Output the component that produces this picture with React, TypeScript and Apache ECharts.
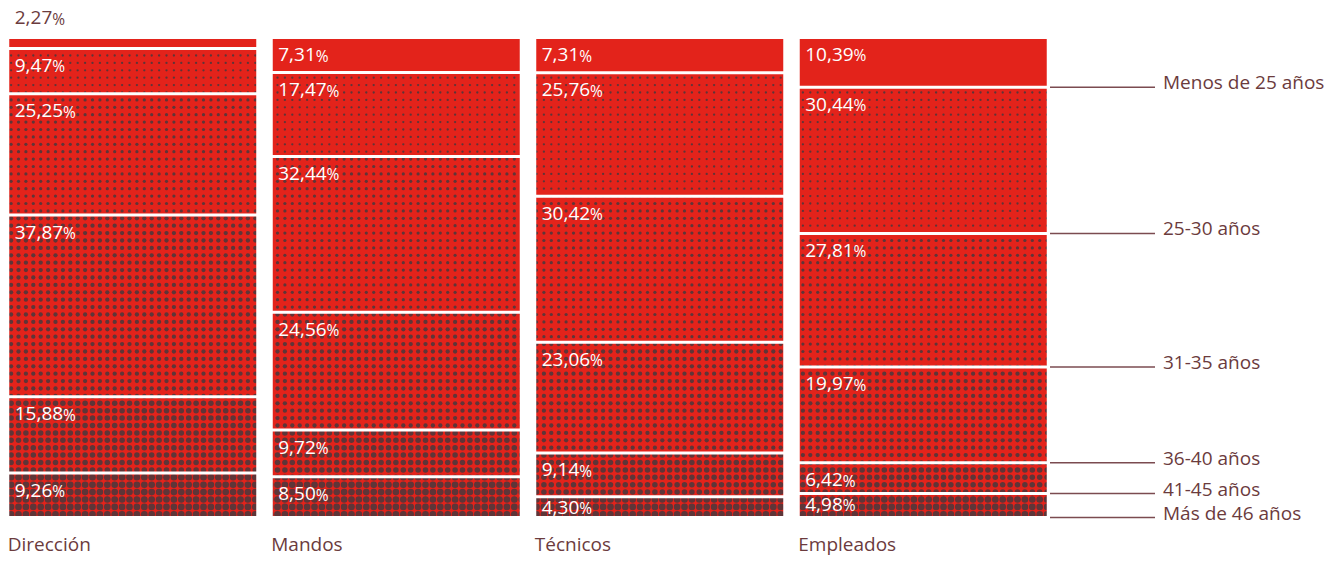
import React, { useEffect, useRef } from "react";
import * as echarts from "echarts";

const categories = ["Dirección", "Mandos", "Técnicos", "Empleados"];
// stacked from bottom to top
const ageGroups = ["Más de 46 años", "41-45 años", "36-40 años", "31-35 años", "25-30 años", "Menos de 25 años"];
const mas46 = [9.26, 8.5, 4.3, 4.98];
const a41_45 = [15.88, 9.72, 9.14, 6.42];
const a36_40 = [37.87, 24.56, 23.06, 19.97];
const a31_35 = [25.25, 32.44, 30.42, 27.81];
const a25_30 = [9.47, 17.47, 25.76, 30.44];
const menos25 = [2.27, 7.31, 7.31, 10.39];
const seriesValues = [mas46, a41_45, a36_40, a31_35, a25_30, menos25];

const RED = "#e3231b";
const DOT = "#5e3538";
const BROWN = "#6b3b3d";
const FONT = "'Open Sans', 'Noto Sans', sans-serif";
const dotRadii = [3.3, 2.75, 2.15, 1.6, 1.15, 0];

function makePattern(r: number): any {
  if (r <= 0) return RED;
  const s = 7.4;
  const n = 5;
  const size = Math.round(s * n);
  const c = document.createElement("canvas");
  c.width = size;
  c.height = size;
  const ctx = c.getContext("2d")!;
  ctx.fillStyle = RED;
  ctx.fillRect(0, 0, size, size);
  ctx.fillStyle = DOT;
  const step = size / n;
  for (let i = 0; i < n; i++) {
    for (let j = 0; j < n; j++) {
      ctx.beginPath();
      ctx.arc(step * i + step / 2, step * j + step / 2, r, 0, Math.PI * 2);
      ctx.fill();
    }
  }
  return { image: c, repeat: "repeat" };
}

const fmt = (v: number) => v.toFixed(2).replace(".", ",");

export default function App() {
  const ref = useRef<HTMLDivElement>(null);
  useEffect(() => {
    if (!ref.current) return;
    const chart = echarts.init(ref.current, null, { renderer: "svg" });
    const series = seriesValues.map((vals, i) => ({
      type: "bar",
      name: ageGroups[i],
      stack: "total",
      barWidth: 250,
      clip: false,
      itemStyle: { color: makePattern(dotRadii[i]), borderColor: "#ffffff", borderWidth: 1.5 },
      label: {
        show: true,
        position: [7, 3],
        align: "left",
        verticalAlign: "top",
        color: "#ffffff",
        fontFamily: FONT,
        formatter: (p: any) => `{v|${fmt(p.value)}}{p|%}`,
        rich: {
          v: { fontSize: 19, fontFamily: FONT, verticalAlign: "bottom", lineHeight: 23 },
          p: { fontSize: 15.5, fontFamily: FONT, verticalAlign: "bottom", lineHeight: 20 },
        },
      },
      data: vals.map((v, j) => {
        if (i === seriesValues.length - 1 && j === 0) {
          return { value: v, label: { position: [7, -34], color: BROWN } };
        }
        if (v < 6) {
          return { value: v, label: { position: [7, -3.5] } };
        }
        return v;
      }),
    }));
    chart.setOption({
      animation: false,
      grid: { left: 1, width: 1054, top: 37.5, height: 480, containLabel: false },
      xAxis: {
        type: "category",
        data: categories,
        axisLine: { show: false },
        axisTick: { show: false },
        axisLabel: {
          margin: 17,
          formatter: "{a|{value}}",
          rich: { a: { width: 250, align: "left", fontSize: 19, fontFamily: FONT, color: BROWN } },
        },
      },
      yAxis: { type: "value", min: 0, max: 100, show: false },
      series,
    });
    // legend lines to the last column's segment boundaries
    const last = categories.length - 1;
    const graphic: any[] = [];
    let base = 0;
    seriesValues.forEach((vals, i) => {
      const y = chart.convertToPixel({ gridIndex: 0 }, [last, base])[1];
      graphic.push({
        type: "line",
        shape: { x1: 1050, y1: y, x2: 1155, y2: y },
        style: { stroke: "#7b4b50", lineWidth: 1.5 },
      });
      graphic.push({
        type: "text",
        x: 1163,
        y: y - 5,
        style: { text: ageGroups[i], fill: BROWN, fontSize: 19, fontFamily: FONT, verticalAlign: "middle", align: "left" },
      });
      base += vals[last];
    });
    chart.setOption({ graphic });
    return () => chart.dispose();
  }, []);
  return <div ref={ref} style={{ position: "absolute", left: 0, top: 0, width: 1329, height: 561 }} />;
}
